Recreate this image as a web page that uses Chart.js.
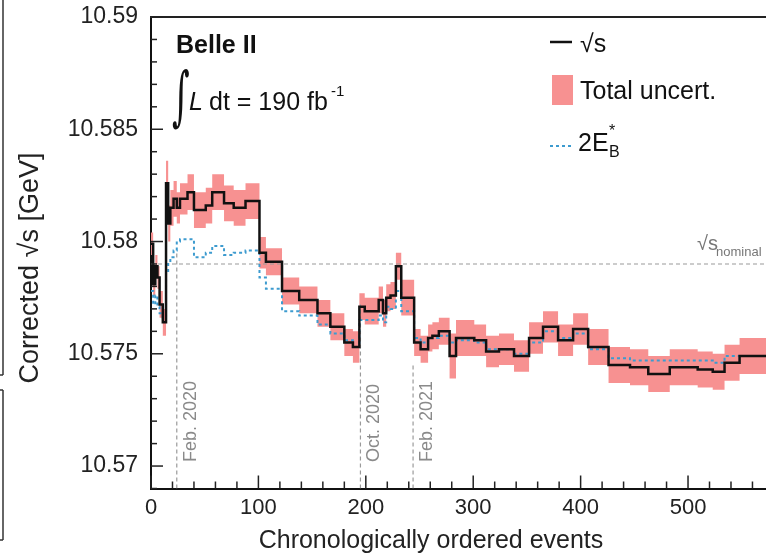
<!DOCTYPE html>
<html>
<head>
<meta charset="utf-8">
<script src="https://cdn.jsdelivr.net/npm/chart.js@4.4.0/dist/chart.umd.min.js"></script>
<style>
  html, body { margin: 0; padding: 0; background: #fff; }
</style>
</head>
<body>
<canvas id="chart" width="766" height="557"></canvas>
<script>
// bin start (event index) for each step, the last bin ends at lastEvent
const binStart = [0, 2, 4, 6, 8, 11, 14, 16, 18, 21, 24, 27, 34, 40, 51, 57, 68, 77,
  88, 101, 107, 122, 138, 155, 167, 180, 188, 194, 199, 212, 216, 219, 223, 228, 233, 245,
  251, 258, 262, 268, 278, 284, 301, 312, 324, 338, 352, 365, 379, 393, 407, 426, 446, 463,
  483, 509, 523, 534, 548];
const lastEvent = 575;

const sqrtS = [10.5799, 10.5781, 10.5789, 10.5784, 10.5772, 10.5764,
  10.5826, 10.5808, 10.5815, 10.5819, 10.5815, 10.5819,
  10.5822, 10.5814, 10.5816, 10.5822, 10.5817, 10.5815,
  10.5818, 10.5795, 10.5791, 10.5778, 10.5774, 10.5768,
  10.5762, 10.5755, 10.5753, 10.5771, 10.5769, 10.5774,
  10.5768, 10.5775, 10.5776, 10.5789, 10.5775, 10.5755,
  10.5752, 10.5757, 10.5758, 10.5760, 10.5749, 10.5757,
  10.5756, 10.5751, 10.5752, 10.5749, 10.5757, 10.5762,
  10.5756, 10.5761, 10.5753, 10.5745, 10.5744, 10.5741,
  10.5744, 10.5743, 10.5742, 10.5746, 10.5749];

// half width of the total uncertainty band
const totalUncert = [0.0005, 0.0005, 0.0005, 0.0005, 0.0006, 0.0006,
  0.0010, 0.0008, 0.0008, 0.0008, 0.0007, 0.0007,
  0.0008, 0.0008, 0.0008, 0.0008, 0.0008, 0.0008,
  0.0008, 0.0007, 0.0006, 0.0006, 0.0006, 0.0006,
  0.0006, 0.0006, 0.0007, 0.0006, 0.0006, 0.0006,
  0.0006, 0.0006, 0.0006, 0.0006, 0.0008, 0.0006,
  0.0006, 0.0006, 0.0006, 0.0006, 0.0010, 0.0008,
  0.0007, 0.0007, 0.0007, 0.0007, 0.0007, 0.0007,
  0.0007, 0.0007, 0.0008, 0.0008, 0.0008, 0.0008,
  0.0008, 0.0008, 0.0008, 0.0008, 0.0008];

const twoEb = [10.5778, 10.5772, 10.5776, 10.5771, 10.5768, 10.5766,
  10.5786, 10.5790, 10.5793, 10.5796, 10.5800, 10.5801,
  10.5801, 10.5793, 10.5795, 10.5798, 10.5794, 10.5795,
  10.5796, 10.5784, 10.5779, 10.5769, 10.5767, 10.5763,
  10.5759, 10.5756, 10.5753, 10.5765, 10.5765, 10.5767,
  10.5764, 10.5771, 10.5770, 10.5778, 10.5769, 10.5757,
  10.5755, 10.5757, 10.5757, 10.5758, 10.5755, 10.5756,
  10.5755, 10.5752, 10.5752, 10.5750, 10.5755, 10.5760,
  10.5757, 10.5759, 10.5752, 10.5748, 10.5747, 10.5747,
  10.5747, 10.5747, 10.5746, 10.5749, 10.5749];

const nominalSqrtS = 10.579;
const monthEvents = [24, 195, 244];
const monthTops = [10.5795, 10.5772, 10.5746];
const monthLabels = ["Feb. 2020", "Oct. 2020", "Feb. 2021"];

const xTicks = [0, 100, 200, 300, 400, 500];
const yTicks = [10.57, 10.575, 10.58, 10.585, 10.59];

const FONT = "'Liberation Sans', Arial, Helvetica, sans-serif";

function steps(values) {
  const pts = binStart.map((x, i) => ({ x: x, y: values[i] }));
  pts.push({ x: lastEvent, y: values[values.length - 1] });
  return pts;
}

const upper = sqrtS.map((v, i) => v + totalUncert[i]);
const lower = sqrtS.map((v, i) => v - totalUncert[i]);

const monthSets = monthEvents.map((ev, i) => ({
  data: [{ x: ev, y: 10.569 }, { x: ev, y: monthTops[i] }],
  borderColor: "#9a9a9a",
  borderWidth: 1.2,
  borderDash: [4, 3],
  pointRadius: 0,
  order: 3
}));

function line(ctx, x1, y1, x2, y2) {
  ctx.beginPath();
  ctx.moveTo(x1, y1);
  ctx.lineTo(x2, y2);
  ctx.stroke();
}

const decorations = {
  id: "decorations",
  afterDraw(chart) {
    const ctx = chart.ctx;
    const a = chart.chartArea;
    const xs = chart.scales.x;
    const ys = chart.scales.y;
    ctx.save();

    // frame top
    ctx.strokeStyle = "#222";
    ctx.lineWidth = 2;
    line(ctx, a.left - 1, a.top, a.right, a.top);

    // inward ticks
    ctx.lineWidth = 1.5;
    for (let v = 0; v <= xs.max; v += 20) {
      const px = xs.getPixelForValue(v);
      line(ctx, px, a.bottom, px, a.bottom - (v % 100 === 0 ? 13 : 7));
    }
    for (let k = 0; k <= 21; k++) {
      const v = ys.min + k * 0.001;
      const py = ys.getPixelForValue(v);
      const major = Math.round(v * 1000) % 5 === 0;
      line(ctx, a.left, py, a.left + (major ? 12 : 6), py);
    }

    // month labels
    ctx.fillStyle = "#8a8a8a";
    ctx.font = "18px " + FONT;
    ctx.textAlign = "left";
    ctx.textBaseline = "middle";
    monthEvents.forEach((ev, i) => {
      const px = xs.getPixelForValue(ev);
      ctx.save();
      ctx.translate(px + 14, 462);
      ctx.rotate(-Math.PI / 2);
      ctx.fillText(monthLabels[i], 0, 0);
      ctx.restore();
    });

    // nominal label
    ctx.fillStyle = "#777";
    ctx.font = "20px " + FONT;
    ctx.textBaseline = "alphabetic";
    ctx.fillText("\u221As", 697, 250);
    ctx.font = "13px " + FONT;
    ctx.fillText("nominal", 716, 256);

    // experiment label
    ctx.fillStyle = "#111";
    ctx.font = "bold 25px " + FONT;
    ctx.textBaseline = "middle";
    ctx.fillText("Belle II", 176, 46);
    ctx.save();
    ctx.translate(172, 118);
    ctx.scale(1, 1.9);
    ctx.font = "34px 'DejaVu Serif', serif";
    ctx.textBaseline = "alphabetic";
    ctx.fillText("\u222B", 0, 0);
    ctx.restore();
    ctx.font = "italic 25px " + FONT;
    ctx.fillText("L", 189, 103);
    ctx.font = "25px " + FONT;
    ctx.fillText("dt = 190 fb", 209, 103);
    ctx.font = "15px " + FONT;
    ctx.fillText("-1", 331, 92);

    // legend
    ctx.strokeStyle = "#111";
    ctx.lineWidth = 2.5;
    line(ctx, 550, 42, 572, 42);
    ctx.font = "25px " + FONT;
    ctx.fillStyle = "#111";
    ctx.fillText("\u221As", 580, 45);
    ctx.fillStyle = "#f79191";
    ctx.fillRect(552, 75, 21, 30);
    ctx.fillStyle = "#111";
    ctx.fillText("Total uncert.", 580, 92);
    ctx.strokeStyle = "#3d9bcf";
    ctx.lineWidth = 2;
    ctx.setLineDash([3, 3]);
    line(ctx, 550, 146, 572, 146);
    ctx.setLineDash([]);
    ctx.fillText("2E", 578, 144);
    ctx.font = "16px " + FONT;
    ctx.fillText("B", 609, 153);
    ctx.fillText("*", 609, 132);

    // axis titles
    ctx.fillStyle = "#222";
    ctx.textAlign = "center";
    ctx.font = "25px " + FONT;
    ctx.fillText("Chronologically ordered events", 431, 541);
    ctx.save();
    ctx.translate(31, 268);
    ctx.rotate(-Math.PI / 2);
    ctx.font = "27px " + FONT;
    ctx.fillText("Corrected \u221As [GeV]", 0, 0);
    ctx.restore();

    // neighbouring figure edge at the far left
    ctx.strokeStyle = "#333";
    ctx.lineWidth = 1.5;
    line(ctx, 3, 0, 3, 375);
    line(ctx, 0, 375, 3, 375);
    line(ctx, 3, 390, 3, 540);
    line(ctx, 0, 390, 3, 390);
    line(ctx, 0, 540, 3, 540);

    ctx.restore();
  }
};

new Chart(document.getElementById("chart"), {
  type: "line",
  data: {
    datasets: [
      {
        data: steps(lower),
        stepped: true,
        borderWidth: 0,
        pointRadius: 0,
        fill: false,
        order: 5
      },
      {
        data: steps(upper),
        stepped: true,
        borderWidth: 0,
        pointRadius: 0,
        backgroundColor: "#f79191",
        fill: "-1",
        order: 4
      },
      {
        data: steps(twoEb),
        stepped: true,
        borderColor: "#3d9bcf",
        borderWidth: 2,
        borderDash: [3, 3],
        pointRadius: 0,
        fill: false,
        order: 2
      },
      {
        data: steps(sqrtS),
        stepped: true,
        borderColor: "#111",
        borderWidth: 2.5,
        pointRadius: 0,
        fill: false,
        order: 1
      },
      {
        data: [{ x: 0, y: nominalSqrtS }, { x: lastEvent, y: nominalSqrtS }],
        borderColor: "#9a9a9a",
        borderWidth: 1.2,
        borderDash: [4, 3],
        pointRadius: 0,
        order: 3
      },
      ...monthSets
    ]
  },
  options: {
    responsive: false,
    animation: false,
    devicePixelRatio: 1,
    layout: { padding: { top: 17, right: 0, bottom: 0, left: 0 } },
    plugins: {
      legend: { display: false },
      tooltip: { enabled: false }
    },
    scales: {
      x: {
        type: "linear",
        min: 0,
        max: 572.6,
        afterBuildTicks: (s) => { s.ticks = xTicks.map((v) => ({ value: v })); },
        afterFit: (s) => { s.height = 68.5; s.paddingLeft = 0; s.paddingRight = 0; },
        grid: { display: false, drawTicks: false },
        border: { display: true, color: "#111", width: 2 },
        ticks: {
          autoSkip: false,
          maxRotation: 0,
          padding: 6,
          color: "#222",
          font: { family: FONT, size: 22 }
        }
      },
      y: {
        min: 10.569,
        max: 10.59,
        afterBuildTicks: (s) => { s.ticks = yTicks.map((v) => ({ value: v })); },
        afterFit: (s) => { s.width = 151; s.paddingTop = 0; s.paddingBottom = 0; },
        grid: { display: false, drawTicks: false },
        border: { display: true, color: "#111", width: 2 },
        ticks: {
          padding: 13,
          color: "#222",
          font: { family: FONT, size: 23 },
          callback: (v) => String(+Number(v).toFixed(3))
        }
      }
    }
  },
  plugins: [decorations]
});
</script>
</body>
</html>
